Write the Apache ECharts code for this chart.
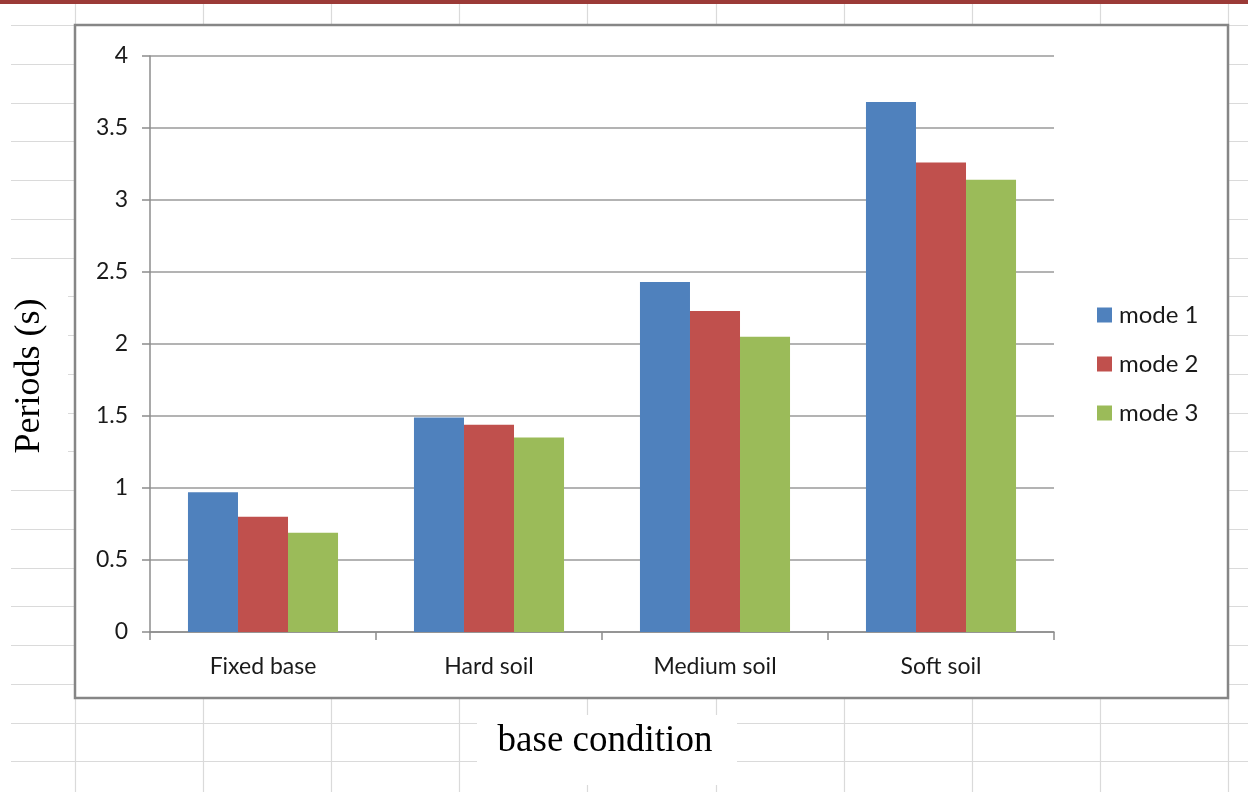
<!DOCTYPE html>
<html>
<head>
<meta charset="utf-8">
<script src="https://cdn.jsdelivr.net/npm/echarts@6/dist/echarts.min.js"></script>
<style>
html,body{margin:0;padding:0;background:#fff;}
#chart{width:1248px;height:792px;}
</style>
</head>
<body>
<div id="chart"></div>
<script>
const categories = ['Fixed base', 'Hard soil', 'Medium soil', 'Soft soil'];
const seriesNames = ['mode 1', 'mode 2', 'mode 3'];
const mode1 = [0.97, 1.49, 2.43, 3.68];
const mode2 = [0.80, 1.44, 2.23, 3.26];
const mode3 = [0.69, 1.35, 2.05, 3.14];
const yTicks = { min: 0, max: 4, interval: 0.5 };
const xTitle = 'base condition';
const yTitle = 'Periods (s)';

const colors = ['#4F81BD', '#C0504D', '#9BBB59'];
const sheetLine = '#dadada';
const gfx = [];
// spreadsheet background grid
for (let k = 0; k < 10; k++) {
  const x = Math.round(75 + 128.1 * k) + 0.5;
  gfx.push({ type: 'line', z: -20, silent: true, shape: { x1: x, y1: 3, x2: x, y2: 792 }, style: { stroke: sheetLine, lineWidth: 1.2 } });
}
for (let k = 0; k < 21; k++) {
  const y = Math.round(25 + 38.75 * k) + 0.5;
  gfx.push({ type: 'line', z: -20, silent: true, shape: { x1: 11, y1: y, x2: 1248, y2: y }, style: { stroke: sheetLine, lineWidth: 1.2 } });
}
// red strip at top
gfx.push({ type: 'rect', z: -15, silent: true, shape: { x: 0, y: 0, width: 1248, height: 4 }, style: { fill: '#9B3A37' } });
// chart box
gfx.push({ type: 'rect', z: -10, silent: true, shape: { x: 75, y: 25, width: 1153, height: 673 }, style: { fill: '#ffffff', stroke: '#868686', lineWidth: 2.5 } });
// x title background + text
gfx.push({ type: 'rect', z: -8, silent: true, shape: { x: 477, y: 715, width: 260, height: 70 }, style: { fill: '#ffffff' } });
gfx.push({ type: 'text', z: -5, silent: true, x: 605, y: 741, style: { text: xTitle, font: '37px "Liberation Serif"', fill: '#000', align: 'center', verticalAlign: 'middle' } });
// y title background + text
gfx.push({ type: 'rect', z: -8, silent: true, shape: { x: 0, y: 270, width: 68, height: 215 }, style: { fill: '#ffffff' } });
gfx.push({ type: 'text', z: -5, silent: true, x: 30, y: 376, rotation: Math.PI / 2, style: { text: yTitle, font: '36px "Liberation Serif"', fill: '#000', align: 'center', verticalAlign: 'middle' } });

const data = [mode1, mode2, mode3];
const chart = echarts.init(document.getElementById('chart'), null, { renderer: 'canvas' });
chart.setOption({
  animation: false,
  backgroundColor: '#ffffff',
  color: colors,
  graphic: { elements: gfx },
  legend: {
    orient: 'vertical',
    left: 1097,
    top: 303,
    padding: 0,
    icon: 'rect',
    itemWidth: 15,
    itemHeight: 15,
    itemGap: 25,
    data: seriesNames,
    textStyle: { fontFamily: 'Lato', fontSize: 24, color: '#1a1a1a', padding: [0, 0, 0, 2] }
  },
  grid: { left: 150, right: 194, top: 56, bottom: 160, containLabel: false },
  xAxis: {
    type: 'category',
    data: categories,
    axisLine: { lineStyle: { color: '#8c8c8c', width: 1.5 } },
    axisTick: { show: true, length: 8, alignWithLabel: false, lineStyle: { color: '#8c8c8c', width: 1.5 } },
    axisLabel: { fontFamily: 'Lato', fontSize: 23, color: '#1a1a1a', margin: 23 }
  },
  yAxis: {
    type: 'value',
    min: yTicks.min, max: yTicks.max, interval: yTicks.interval,
    axisLine: { show: true, lineStyle: { color: '#8c8c8c', width: 1.5 } },
    axisTick: { show: true, length: 8, lineStyle: { color: '#8c8c8c', width: 1.5 } },
    splitLine: { lineStyle: { color: '#9a9a9a', width: 1.5 } },
    axisLabel: { fontFamily: 'Lato', fontSize: 23, color: '#1a1a1a', margin: 22 }
  },
  series: data.map((d, i) => ({
    name: seriesNames[i],
    type: 'bar',
    data: d,
    barGap: '0%',
    barCategoryGap: '33.6%',
    itemStyle: { color: colors[i] }
  }))
});
</script>
</body>
</html>
